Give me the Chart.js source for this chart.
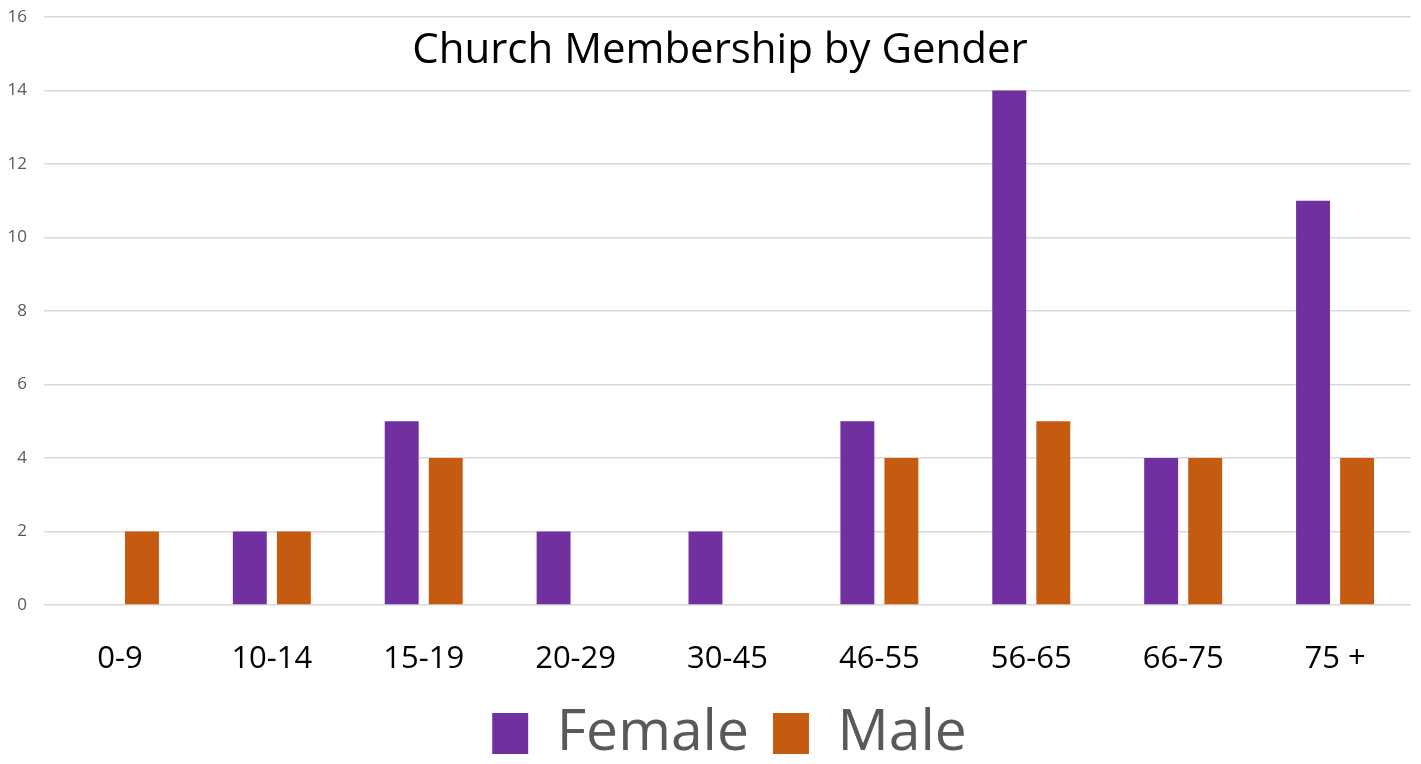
<!DOCTYPE html>
<html>
<head>
<meta charset="utf-8">
<script src="https://cdn.jsdelivr.net/npm/chart.js@4"></script>
<style>
  html, body { margin: 0; padding: 0; background: #fff; }
  #wrap { width: 1421px; height: 764px; }
</style>
</head>
<body>
<div id="wrap"><canvas id="chart"></canvas></div>
<script>
const ageGroups = ['0-9', '10-14', '15-19', '20-29', '30-45', '46-55', '56-65', '66-75', '75 +'];
const female = [0, 2, 5, 2, 2, 5, 14, 4, 11];
const male = [2, 2, 4, 0, 0, 4, 5, 4, 4];
const chartTitle = 'Church Membership by Gender';

// title sits inside the plot area, so draw it on top instead of using the title plugin
const overlayTitle = {
    id: 'overlayTitle',
    afterLayout(chart) {
        // legend is centred a little right of the canvas centre in the original
        chart.legend.left += 22;
        chart.legend.right += 22;
    },
    afterDraw(chart) {
        const ctx = chart.ctx;
        ctx.save();
        ctx.font = '42px "Open Sans", sans-serif';
        ctx.fillStyle = '#000';
        ctx.textAlign = 'center';
        ctx.textBaseline = 'middle';
        ctx.fillText(chartTitle, 720, 51);
        ctx.restore();
    }
};

new Chart(document.getElementById('chart'), {
    type: 'bar',
    data: {
        labels: ageGroups,
        datasets: [{
            label: 'Female',
            data: female,
            backgroundColor: '#7030A0',
            categoryPercentage: 0.58,
            barPercentage: 0.77
        }, {
            label: 'Male',
            data: male,
            backgroundColor: '#C55A11',
            categoryPercentage: 0.58,
            barPercentage: 0.77
        }]
    },
    options: {
        responsive: true,
        maintainAspectRatio: false,
        animation: false,
        layout: { padding: { top: 17, right: 10, left: 4, bottom: -8 } },
        scales: {
            x: {
                grid: { display: false },
                border: { display: false },
                ticks: {
                    color: '#000',
                    padding: 28,
                    font: { family: '"Open Sans", sans-serif', size: 31 }
                },
                afterFit(scale) { scale.height = 76; }
            },
            y: {
                min: 0,
                max: 16,
                ticks: {
                    stepSize: 2,
                    color: '#595959',
                    padding: 17,
                    font: { family: '"Open Sans", sans-serif', size: 17 }
                },
                grid: { color: '#d9d9d9', lineWidth: 1.5, drawTicks: false },
                border: { display: false },
                afterFit(scale) {
                    scale.width = 40;
                    scale.paddingTop = 0;
                    scale.paddingBottom = 0;
                }
            }
        },
        plugins: {
            legend: {
                position: 'bottom',
                labels: {
                    color: '#595959',
                    boxWidth: 36,
                    boxHeight: 41,
                    padding: 24,
                    font: { family: '"Open Sans", sans-serif', size: 57 }
                }
            },
            tooltip: { enabled: false }
        }
    },
    plugins: [overlayTitle]
});
</script>
</body>
</html>
